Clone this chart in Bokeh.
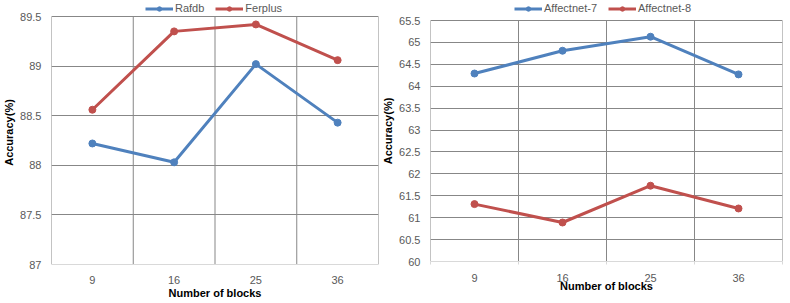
from bokeh.plotting import figure
from bokeh.models import Range1d, FixedTicker, NumeralTickFormatter, Legend, LegendItem
from bokeh.layouts import row
from bokeh.embed import file_html
from bokeh.resources import INLINE

# ---- data ----
blocks = ["9", "16", "25", "36"]
rafdb = [88.22, 88.03, 89.02, 88.43]
ferplus = [88.56, 89.35, 89.42, 89.06]
affect7 = [64.29, 64.81, 65.13, 64.27]
affect8 = [61.31, 60.89, 61.73, 61.21]
left_yticks = [87, 87.5, 88, 88.5, 89, 89.5]
right_yticks = [60, 60.5, 61, 61.5, 62, 62.5, 63, 63.5, 64, 64.5, 65, 65.5]

BLUE = "#4F81BD"
RED = "#C0504D"
GRID = "#878787"
AXIS = "#D9D9D9"
TXT = "#595959"
FONT = "Liberation Sans"

xs = [i + 0.5 for i in range(len(blocks))]
bounds = list(range(len(blocks) + 1))

TOTAL_H = 299


def make(series, names, yticks, frame_w, frame_h, border_left, top_gap_px,
         legend_x, xticks_out, xtick_standoff, xlabel_standoff):
    lo, hi = yticks[0], yticks[-1]
    # leave room inside the frame, above the top gridline, for the legend
    y_end = hi + top_gap_px * (hi - lo) / (frame_h - top_gap_px)
    p = figure(output_backend="svg", toolbar_location=None,
               frame_width=frame_w, frame_height=frame_h,
               min_border_left=border_left, min_border_right=1,
               min_border_top=0, min_border_bottom=TOTAL_H - frame_h,
               x_range=Range1d(0, len(blocks)), y_range=Range1d(lo, y_end))
    p.outline_line_color = None
    p.background_fill_color = "white"
    p.border_fill_color = "white"

    # grids: horizontal via grid, vertical category boundaries via segments
    p.xgrid.visible = False
    p.ygrid.ticker = FixedTicker(ticks=yticks[1:])
    p.ygrid.grid_line_color = GRID
    p.ygrid.grid_line_width = 1
    p.segment(x0=bounds, y0=[lo] * len(bounds), x1=bounds, y1=[hi] * len(bounds),
              line_color=GRID, line_width=1, level="underlay")

    # x axis
    xa = p.xaxis[0]
    xa.ticker = FixedTicker(ticks=xs, minor_ticks=bounds if xticks_out else [])
    xa.major_label_overrides = {x: b for x, b in zip(xs, blocks)}
    xa.major_tick_line_color = None
    xa.major_tick_out = 0
    xa.major_tick_in = 0
    xa.minor_tick_line_color = AXIS if xticks_out else None
    xa.minor_tick_out = xticks_out
    xa.minor_tick_in = 0
    xa.axis_line_color = AXIS
    xa.major_label_text_font = FONT
    xa.major_label_text_font_size = "11px"
    xa.major_label_text_color = TXT
    xa.major_label_standoff = xtick_standoff
    xa.axis_label = "Number of blocks"
    xa.axis_label_text_font = FONT
    xa.axis_label_text_font_size = "11px"
    xa.axis_label_text_font_style = "bold"
    xa.axis_label_text_color = "black"
    xa.axis_label_standoff = xlabel_standoff

    # y axis
    ya = p.yaxis[0]
    ya.ticker = FixedTicker(ticks=yticks)
    ya.formatter = NumeralTickFormatter(format="0.[0]")
    ya.axis_line_color = None
    ya.major_tick_line_color = None
    ya.minor_tick_line_color = None
    ya.major_tick_out = 0
    ya.major_tick_in = 0
    ya.major_label_text_font = FONT
    ya.major_label_text_font_size = "11px"
    ya.major_label_text_color = TXT
    ya.major_label_standoff = 10
    ya.axis_label = "Accuracy(%)"
    ya.axis_label_text_font = FONT
    ya.axis_label_text_font_size = "11px"
    ya.axis_label_text_font_style = "bold"
    ya.axis_label_text_color = "black"
    ya.axis_label_standoff = 2

    items = []
    for vals, name, col in zip(series, names, (BLUE, RED)):
        l = p.line(xs, vals, line_color=col, line_width=3, line_join="round")
        s = p.scatter(xs, vals, marker="circle", size=7, fill_color=col, line_color=col)
        items.append(LegendItem(label=name, renderers=[l, s]))

    leg = Legend(items=items, orientation="horizontal",
                 location=(legend_x, frame_h - 14),
                 padding=0, margin=0, spacing=11, label_standoff=2,
                 glyph_width=28, glyph_height=11, label_height=11,
                 label_text_font=FONT, label_text_font_size="11px",
                 label_text_color=TXT, border_line_color=None,
                 background_fill_alpha=0)
    p.add_layout(leg)
    return p


p1 = make([rafdb, ferplus], ["Rafdb", "Ferplus"], left_yticks,
          frame_w=327, frame_h=264, border_left=44, top_gap_px=16,
          legend_x=94, xticks_out=0, xtick_standoff=11, xlabel_standoff=0)
p2 = make([affect7, affect8], ["Affectnet-7", "Affectnet-8"], right_yticks,
          frame_w=352, frame_h=261, border_left=49, top_gap_px=20,
          legend_x=84, xticks_out=3, xtick_standoff=9, xlabel_standoff=-5)

layout = row(p1, p2)
open("out.html", "w").write(file_html(layout, INLINE))
